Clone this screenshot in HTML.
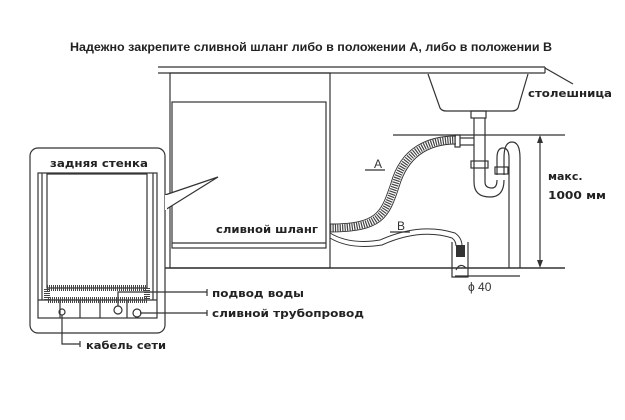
<!DOCTYPE html>
<html><head><meta charset="utf-8"><style>
body{margin:0;background:#fff;}
svg{display:block;font-family:"Liberation Sans","DejaVu Sans",sans-serif;}
</style></head><body>
<svg width="625" height="420" viewBox="0 0 625 420" xmlns="http://www.w3.org/2000/svg">
<rect width="625" height="420" fill="#fff"/>
<text x="311" y="51" font-size="12.4" font-weight="bold" text-anchor="middle" fill="#222" textLength="482" lengthAdjust="spacingAndGlyphs">Надежно закрепите сливной шланг либо в положении A, либо в положении B</text>
<g stroke="#333" fill="none" stroke-width="1.2">
<line x1="158" y1="67" x2="545" y2="67"/>
<line x1="158" y1="73" x2="545" y2="73"/>
<line x1="545" y1="67" x2="545" y2="73"/>
<line x1="545" y1="68" x2="573" y2="84"/>
<rect x="170" y="73" width="160" height="195"/>
<rect x="172" y="102" width="154" height="146"/>
<line x1="172" y1="243" x2="326" y2="243"/>
<line x1="165" y1="268" x2="565" y2="268" stroke-width="1.4"/>
<path d="M428 74 L440 108 Q442 111 446 111 L512 111 Q516 111 518 108 L528 74"/>
<rect x="471" y="111" width="15" height="7"/>
<line x1="474" y1="118" x2="474" y2="182"/>
<line x1="485" y1="118" x2="485" y2="182"/>
<rect x="455" y="135" width="5" height="12"/>
<line x1="460" y1="138" x2="474" y2="138"/>
<line x1="460" y1="145" x2="474" y2="145"/>
<line x1="393" y1="135" x2="565" y2="135"/>
<path d="M474 182 Q474 197 490 197 Q504 197 504 180"/>
<path d="M485 182 Q485 188 492 188 Q497 188 497 180"/>
<rect x="471" y="161" width="17" height="7"/>
<rect x="495" y="167" width="13" height="7"/>
<path d="M497 175 L497 158 Q497 148 503 148 Q509 148 509 158 L509 268"/>
<path d="M504 175 L504 158 Q504 142 512 142 Q520 142 520 158 L520 268"/>
<line x1="540" y1="137" x2="540" y2="266"/>
<path d="M452 242 L452 277 L468 277 L468 242"/>
<line x1="455" y1="276" x2="520" y2="276"/>
<path d="M456 270 Q460 262 466 268"/>
<path d="M330 233 Q350 245 380 240 Q420 222 455 233 Q462 238 462 246" stroke-width="1"/>
<path d="M330 238 Q350 250 382 245 Q420 228 452 238 Q456 241 456 246" stroke-width="1"/>
<path d="M330 228 C380 228 385 215 395 185 C405 150 430 140 456 140" stroke="#444" stroke-width="7" stroke-dasharray="1.2 1.2"/>
<path d="M330 224 C378 224 381 212 391 183 C401 147 428 136 456 136" stroke-width="0.9"/>
<path d="M330 232 C382 232 389 218 399 187 C409 153 432 144 456 144" stroke-width="0.9"/>
<line x1="365" y1="170" x2="385" y2="170"/>
<line x1="390" y1="232" x2="410" y2="232"/>
<rect x="30" y="148" width="135" height="185" rx="8"/>
<rect x="38" y="173" width="119" height="145"/>
<rect x="47" y="174" width="100" height="114"/>
<line x1="42" y1="173" x2="42" y2="300"/>
<line x1="153" y1="173" x2="153" y2="300"/>
<line x1="38" y1="300" x2="157" y2="300"/>
<line x1="60" y1="300" x2="60" y2="318"/>
<line x1="80" y1="300" x2="80" y2="318"/>
<line x1="100" y1="300" x2="100" y2="318"/>
<line x1="127" y1="300" x2="127" y2="318"/>
<circle cx="118" cy="310" r="4"/>
<circle cx="137" cy="313" r="4"/>
<circle cx="62" cy="312" r="3"/>
<path d="M165 195 L218 177 L165 210" fill="#fff"/>
<path d="M118 306 L118 292 L207 292"/>
<line x1="140" y1="313" x2="207" y2="313"/>
<path d="M62 315 L62 344 L80 344"/>
<line x1="207" y1="289" x2="207" y2="296"/>
<line x1="207" y1="310" x2="207" y2="316"/>
<line x1="80" y1="341" x2="80" y2="347"/>
</g>
<rect x="47" y="288" width="100" height="12" fill="none" stroke="#444" stroke-width="6" stroke-dasharray="1 1"/>
<rect x="456" y="245" width="9" height="12" fill="#333"/>
<polygon points="540,135 537,143 543,143" fill="#333"/>
<polygon points="540,268 537,260 543,260" fill="#333"/>
<rect x="165" y="195" width="2" height="15" fill="#fff"/>
<g fill="#222" font-size="11" font-weight="bold" font-family="DejaVu Sans, sans-serif">
<text x="50" y="167" textLength="98" lengthAdjust="spacingAndGlyphs">задняя стенка</text>
<text x="216" y="233" textLength="102" lengthAdjust="spacingAndGlyphs">сливной шланг</text>
<text x="212" y="297" textLength="92" lengthAdjust="spacingAndGlyphs">подвод воды</text>
<text x="212" y="317" textLength="152" lengthAdjust="spacingAndGlyphs">сливной трубопровод</text>
<text x="86" y="349" textLength="80" lengthAdjust="spacingAndGlyphs">кабель сети</text>
<text x="528" y="97" textLength="84" lengthAdjust="spacingAndGlyphs">столешница</text>
<text x="548" y="180">макс.</text>
<text x="548" y="199" textLength="58" lengthAdjust="spacingAndGlyphs">1000 мм</text>
</g>
<g fill="#333" font-size="12">
<text x="374" y="168">A</text>
<text x="397" y="230">B</text>
<text x="468" y="291">ϕ 40</text>
</g>
</svg>
</body></html>
